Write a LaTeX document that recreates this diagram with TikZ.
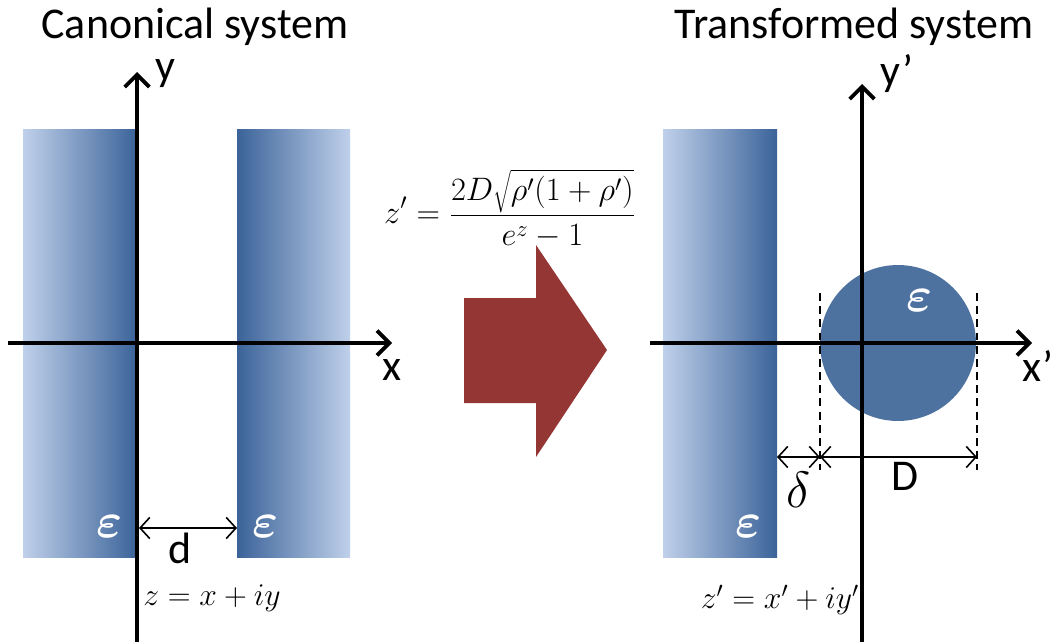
\RequirePackage{fix-cm}
\documentclass[tikz,border=0pt]{standalone}
\usepackage{bm}
\usepackage{fontspec}
\setmainfont{Carlito}
\usetikzlibrary{arrows.meta}
\definecolor{slabdark}{HTML}{3B6399}
\definecolor{slablight}{HTML}{BFD0EA}
\definecolor{circfill}{HTML}{4D72A0}
\definecolor{arrowred}{HTML}{943634}
\begin{document}
\begin{tikzpicture}[x=0.02cm,y=-0.02cm,
 axis/.style={line width=2.2pt, -{Straight Barb[length=7pt,width=14pt,line width=2.2pt]}},
 dim/.style={line width=0.9pt, {Straight Barb[length=5.5pt,width=12pt]}-{Straight Barb[length=5.5pt,width=12pt]}},
 guide/.style={line width=0.8pt, dash pattern=on 4.5pt off 3pt},
 lbl/.style={font=\fontsize{25}{30}\selectfont, inner sep=0pt},
 eps/.style={text=white, font=\fontsize{28}{33}\selectfont, inner sep=0pt},
 mathlbl/.style={font=\fontsize{18}{22}\selectfont, inner sep=0pt}]
\useasboundingbox (0,0) rectangle (1052,642);
% left panel slabs
\shade[left color=slablight, right color=slabdark] (23,130) rectangle (137,557);
\shade[left color=slabdark, right color=slablight] (237,130) rectangle (350,557);
% right panel slab
\shade[left color=slablight, right color=slabdark] (663,130) rectangle (777,557);
% circle
\fill[circfill] (898,343) circle[radius=1.56cm];
% big arrow
\fill[arrowred] (464,298) -- (536,298) -- (536,245) -- (607,350) -- (536,457) -- (536,403) -- (464,403) -- cycle;
% coordinates
\coordinate (yb) at (137,642); \coordinate (yt) at (137,72);
\coordinate (xl) at (8,343); \coordinate (xr) at (392,343);
\coordinate (ypb) at (862,642); \coordinate (ypt) at (862,84);
\coordinate (xpl) at (650,343); \coordinate (xpr) at (1032,343);
\coordinate (dl) at (139,528); \coordinate (dr) at (237,528);
\coordinate (gl) at (820,293); \coordinate (glb) at (820,470);
\coordinate (gr) at (977,293); \coordinate (grb) at (977,470);
\coordinate (del) at (777,457); \coordinate (der) at (820,457);
\coordinate (Dr) at (977,457);
% axes
\draw[axis] (yb) -- (yt);
\draw[axis] (xl) -- (xr);
\draw[axis] (ypb) -- (ypt);
\draw[axis] (xpl) -- (xpr);
% guides and dimensions
\draw[guide] (gl) -- (glb);
\draw[guide] (gr) -- (grb);
\draw[dim] (dl) -- (dr);
\draw[dim] (del) -- (der);
\draw[dim] (der) -- (Dr);
% labels
\node[lbl] (title1) at (195,27) {Canonical system};
\node[lbl] (title2) at (854,27) {Transformed system};
\node[lbl] (ylab) at (165,74) {y};
\node[lbl] (xlab) at (392,370) {x};
\node[lbl] (yplab) at (897,74) {y’};
\node[lbl] (xplab) at (1038,366) {x’};
\node[lbl] (dlab) at (180,548) {d};
\node[lbl] (Dlab) at (905,476) {D};
\node[lbl, font=\fontsize{29}{34}\selectfont] (deltalab) at (798,490) {$\delta$};
\node[eps] (e1) at (110,527) {$\bm{\varepsilon}$};
\node[eps] (e2) at (266,527) {$\bm{\varepsilon}$};
\node[eps] (e3) at (749,527) {$\bm{\varepsilon}$};
\node[eps] (e4) at (919,301) {$\bm{\varepsilon}$};
\node[mathlbl] (zeq) at (212,598) {$z = x + iy$};
\node[mathlbl] (zpeq) at (780,600) {$z' = x' + iy'$};
\node[mathlbl, font=\fontsize{18.5}{22}\selectfont] (formula) at (510,209) {$\displaystyle z' = \frac{2D\sqrt{\rho'(1+\rho')}}{e^{z}-1}$};
\end{tikzpicture}
\end{document}
